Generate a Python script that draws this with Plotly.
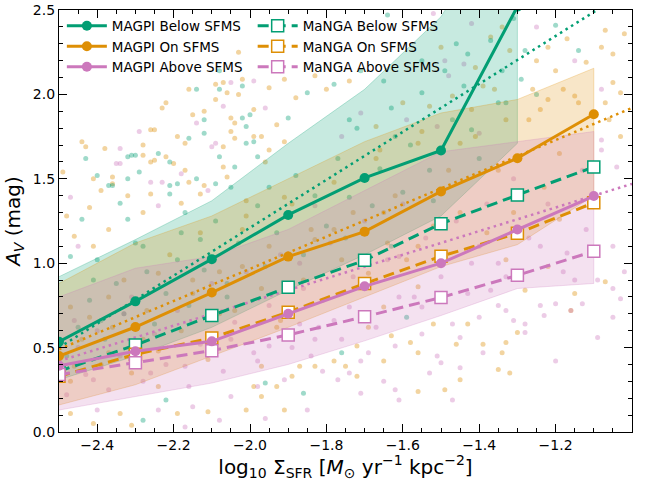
import plotly.graph_objects as go

# ---------------- data ----------------
xbins = [-2.5, -2.3, -2.1, -1.9, -1.7, -1.5, -1.3, -1.1]
xbins_below = [-2.5, -2.3, -2.1, -1.9, -1.7, -1.5, -1.3]

magpi_below = [0.535, 0.774, 1.024, 1.286, 1.505, 1.668, 2.52]
magpi_on = [0.45, 0.622, 0.826, 1.039, 1.187, 1.425, 1.622, 1.882]
magpi_above = [0.393, 0.478, 0.537, 0.701, 0.863, 1.0, 1.2, 1.398]

manga_below = [0.36, 0.515, 0.69, 0.857, 1.017, 1.234, 1.404, 1.57]
manga_on = [0.33, 0.46, 0.557, 0.71, 0.879, 1.041, 1.177, 1.358]
manga_above = [0.34, 0.41, 0.482, 0.575, 0.683, 0.797, 0.928, 1.071]

band_below_lo = [0.31, 0.45, 0.62, 0.84, 1.05, 1.28, 1.71]
band_below_hi = [0.92, 1.14, 1.37, 1.71, 2.03, 2.46, 3.2]
band_on_lo = [0.16, 0.28, 0.45, 0.62, 0.80, 0.98, 1.11, 1.40]
band_on_hi = [0.88, 1.12, 1.28, 1.50, 1.72, 1.89, 1.97, 2.155]
band_above_lo = [0.13, 0.21, 0.29, 0.40, 0.54, 0.69, 0.85, 0.88]
band_above_hi = [0.80, 0.97, 1.04, 1.20, 1.43, 1.66, 1.72, 1.78]

fit_x = [-2.5, -1.0]
fit_below = [0.50, 2.63]
fit_on = [0.49, 1.92]
fit_above = [0.42, 1.47]

# individual spaxels
pts_below_x = [-2.08, -2.14, -2.02, -2.08, -2.12, -2.02, -2.00, -2.16, -2.12, -2.01, -2.43, -2.32, -2.31,
               -2.30, -2.24, -2.21, -2.08, -2.01, -2.40, -2.37, -2.32, -2.29, -2.14, -2.21, -2.19, -2.09,
               -2.04, -1.64, -1.92, -1.85, -1.78, -1.71, -1.90, -1.99, -1.98, -1.65, -1.55, -1.74, -1.62,
               -1.49, -1.20, -1.28, -1.29, -1.25, -1.14, -1.43, -1.34, -1.35, -1.42, -1.46, -1.76, -1.86,
               -1.96, -1.59, -1.95, -1.74, -1.52, -1.63, -2.36, -2.34, -2.44, -2.47, -2.32, -2.21, -2.17,
               -2.05, -2.28, -2.22, -2.41, -2.19, -2.06, -2.13, -2.28, -2.39]
pts_below_y = [2.14, 2.03, 2.05, 2.03, 1.85, 1.86, 1.88, 1.74, 1.77, 1.81, 1.62, 1.63, 1.64,
               1.64, 1.65, 1.60, 1.63, 1.71, 1.52, 1.46, 1.50, 1.54, 1.50, 1.46, 1.47, 1.47,
               1.57, 2.47, 2.14, 2.01, 2.06, 2.14, 1.86, 1.72, 1.63, 2.08, 2.01, 1.85, 1.75,
               2.14, 2.41, 2.26, 2.09, 2.00, 2.26, 2.24, 2.14, 1.95, 1.79, 2.30, 0.47, 0.23,
               0.29, 0.68, 1.45, 1.39, 1.37, 1.10, 1.46, 1.355, 1.26, 1.04, 1.26, 1.41, 1.30,
               1.45, 0.07, 0.19, 0.90, 1.02, 0.80, 1.14, 1.10, 0.66]
pts_below_x2 = [-2.45, -2.42, -2.38, -2.35, -2.33, -2.27, -2.25, -2.22, -2.18, -2.16, -2.12, -2.09, -2.06,
                -2.03, -1.98, -1.96, -1.93, -1.88, -1.86, -1.83, -1.80, -1.77, -1.75, -1.72, -1.68, -1.66,
                -1.63, -1.60, -1.58, -1.55, -1.53, -1.47, -1.44, -1.40, -1.37, -1.33, -1.31, -2.48, -2.40,
                -2.30]
pts_below_y2 = [0.62, 0.78, 0.55, 0.88, 0.70, 0.95, 0.64, 0.82, 1.18, 0.75, 0.96, 1.25, 0.88,
                1.12, 1.34, 0.98, 1.18, 1.52, 1.05, 1.40, 1.22, 1.62, 1.15, 1.80, 1.34, 1.56,
                1.92, 1.42, 1.70, 2.20, 1.55, 1.85, 2.05, 1.62, 2.32, 1.95, 2.45, 0.45, 1.02,
                1.12]

pts_on_x = [-2.03, -2.07, -2.09, -2.16, -2.02, -2.06, -2.03, -2.09, -2.23, -2.22, -2.12, -2.15, -2.05,
            -2.04, -2.25, -2.26, -2.19, -2.05, -1.99, -2.44, -2.43, -2.38, -2.28, -2.28, -2.22, -2.20,
            -2.17, -2.07, -2.04, -2.49, -2.41, -2.36, -2.36, -2.26, -2.25, -2.17, -2.16, -2.12, -2.06,
            -2.07, -1.95, -1.91, -1.88, -1.80, -1.74, -1.83, -1.99, -1.93, -1.97, -1.95, -1.91, -1.96,
            -1.67, -1.60, -1.53, -1.66, -1.56, -1.50, -1.02, -1.07, -1.17, -1.22, -1.08, -1.05, -1.12,
            -1.25, -1.20, -1.26, -1.18, -1.15, -1.05, -1.03, -1.07, -1.22, -1.06, -1.03, -1.24, -1.37,
            -1.39, -1.42, -1.47, -1.33, -1.45, -1.36, -1.41, -1.32, -1.34, -1.15, -1.30, -1.43, -1.46,
            -1.39, -1.34, -1.33, -1.35, -1.32, -1.45, -1.07, -1.22, -1.28, -1.19, -1.33, -1.52, -1.58,
            -1.56, -1.65, -1.72, -1.75, -1.78, -1.83, -1.87, -1.89, -1.93, -1.97, -1.91, -1.72, -1.56,
            -1.49, -1.63, -1.65, -1.56, -1.93, -1.69, -1.97, -1.91, -1.78, -1.65, -1.56, -1.69, -1.83,
            -2.39, -2.42, -2.48, -2.46, -2.41, -2.37, -2.28, -2.26, -2.32, -2.18, -2.13, -2.01, -2.47,
            -2.34, -2.19, -2.11, -2.01, -2.31, -2.41, -1.99, -2.37, -2.24, -2.15, -2.28, -2.11, -2.02,
            -2.24, -2.02, -2.37, -2.08, -2.46, -2.47, -1.16]
pts_on_y = [2.25, 2.07, 2.06, 2.03, 2.09, 2.01, 2.00, 1.97, 1.92, 1.95, 1.90, 1.88, 1.86,
            1.83, 1.79, 1.79, 1.75, 1.78, 1.75, 1.72, 1.69, 1.68, 1.70, 1.64, 1.63, 1.59,
            1.71, 1.69, 1.74, 1.54, 1.50, 1.51, 1.47, 1.60, 1.61, 1.55, 1.48, 1.46, 1.51,
            1.57, 2.04, 2.09, 1.98, 2.03, 2.08, 2.11, 1.91, 1.82, 1.75, 1.67, 1.72, 1.60,
            1.81, 1.95, 1.93, 1.67, 1.71, 2.28, 2.36, 2.38, 2.33, 2.28, 2.28, 2.24, 2.19,
            2.20, 2.14, 2.03, 2.03, 1.99, 2.07, 2.01, 1.95, 1.97, 1.85, 1.75, 1.91, 2.34,
            2.05, 1.91, 1.99, 1.85, 1.71, 2.03, 2.16, 2.26, 2.40, 0.82, 0.59, 0.64, 0.52,
            0.52, 0.47, 0.53, 0.37, 0.35, 0.31, 0.89, 0.98, 0.84, 1.26, 1.02, 0.64, 0.53,
            0.47, 0.42, 0.51, 0.39, 0.42, 0.39, 0.39, 0.33, 0.27, 0.21, 0.13, 0.33, 0.24,
            0.25, 0.57, 0.74, 0.86, 0.62, 0.62, 0.39, 1.39, 1.20, 1.30, 1.10, 0.94, 1.14,
            1.43, 1.33, 1.28, 1.16, 1.10, 1.20, 1.30, 1.41, 1.40, 1.355, 1.41, 1.37, 0.11,
            0.11, 0.11, 0.12, 0.13, 0.04, 0.05, 0.27, 0.80, 0.94, 0.90, 0.55, 0.43, 0.98,
            0.27, 1.20, 0.47, 0.70, 0.39, 0.74, 0.72]
pts_on_x2 = [-2.47, -2.44, -2.42, -2.39, -2.36, -2.33, -2.31, -2.27, -2.24, -2.21, -2.18, -2.15, -2.13,
             -2.10, -2.08, -2.04, -2.01, -1.97, -1.95, -1.92, -1.89, -1.86, -1.84, -1.81, -1.78, -1.76,
             -1.73, -1.70, -1.67, -1.64, -1.62, -1.59, -1.55, -1.52, -1.48, -1.45, -1.41, -1.38, -1.35,
             -1.31, -1.27, -1.23, -1.19, -1.14, -1.11]
pts_on_y2 = [0.30, 0.55, 0.68, 0.40, 0.62, 0.90, 0.35, 0.72, 0.48, 1.05, 0.60, 0.82, 1.18,
             0.52, 0.95, 0.72, 1.28, 0.85, 1.10, 0.66, 1.35, 0.90, 1.20, 0.78, 1.48, 1.02,
             1.30, 0.88, 1.62, 1.12, 1.40, 1.02, 1.78, 1.22, 1.55, 1.30, 1.75, 1.18, 1.55,
             1.30, 1.85, 1.45, 1.65, 1.95, 1.55]

pts_above_x = [-2.05, -2.07, -2.14, -2.29, -2.34, -2.35, -2.34, -2.09, -2.10, -2.26, -2.23, -2.18,
               -1.52, -1.99, -1.96, -1.71, -1.59, -1.76, -1.51, -1.42, -1.25, -1.15, -1.08, -1.08,
               -1.04, -1.08, -1.44, -1.48, -1.40, -1.49, -1.05, -1.05, -1.03, -1.13, -1.20, -1.24,
               -1.35, -1.33, -1.31, -1.28, -1.28, -1.40, -1.47, -1.45, -1.39, -1.23, -1.16, -1.20,
               -1.45, -1.47, -1.05, -1.09, -1.42, -1.33, -1.17, -1.37, -1.15, -1.24, -1.40, -1.55,
               -1.51, -1.62, -1.69, -1.71, -1.74, -1.81, -1.84, -1.91, -1.98, -1.96, -1.85, -1.77,
               -1.65, -1.61, -1.53, -1.50, -1.62, -1.71, -1.78, -1.74, -1.61, -1.83, -1.87, -1.55,
               -1.95, -1.83, -1.61, -1.87, -2.47, -2.45, -2.24, -2.11, -2.40, -2.24, -2.15, -2.05,
               -2.08, -2.17, -2.46, -2.33, -2.17, -2.41, -2.05, -1.99, -2.26, -1.02, -1.09]
pts_above_y = [2.07, 1.93, 1.83, 1.78, 1.68, 1.59, 1.59, 1.71, 1.69, 1.48, 1.48, 1.53,
               2.48, 2.08, 1.92, 1.89, 1.85, 1.75, 1.81, 2.42, 2.40, 2.20, 2.03, 1.73,
               1.57, 1.67, 2.18, 2.11, 1.77, 2.20, 1.10, 0.85, 0.79, 0.76, 0.76, 0.75,
               0.75, 0.72, 0.66, 0.64, 0.59, 0.68, 0.64, 0.56, 0.47, 0.69, 0.72, 0.42,
               0.38, 0.19, 0.68, 0.90, 1.00, 0.92, 1.06, 0.84, 0.90, 1.10, 1.10, 0.58,
               0.45, 0.51, 0.47, 0.42, 0.35, 0.36, 0.45, 0.31, 0.27, 0.08, 0.13, 0.31,
               0.30, 0.19, 0.35, 0.41, 0.25, 0.23, 0.66, 0.74, 0.80, 0.55, 0.64, 0.74,
               0.51, 1.34, 1.04, 1.00, 1.39, 1.10, 1.34, 1.43, 0.13, 0.13, 0.15, 0.21,
               0.07, 0.03, 0.66, 0.70, 0.39, 0.31, 0.55, 0.47, 0.35, 0.95, 0.56]
pts_above_x2 = [-2.48, -2.45, -2.43, -2.40, -2.37, -2.34, -2.31, -2.28, -2.25, -2.22, -2.19, -2.16, -2.13,
                -2.10, -2.07, -2.04, -2.01, -1.98, -1.95, -1.92, -1.89, -1.86, -1.82, -1.79, -1.76, -1.73,
                -1.70, -1.67, -1.64, -1.60, -1.57, -1.54, -1.50, -1.46, -1.43, -1.38, -1.35, -1.31, -1.27,
                -1.22, -1.18, -1.13, -1.12]
pts_above_y2 = [0.22, 0.50, 0.34, 0.60, 0.25, 0.45, 0.80, 0.30, 0.58, 0.40, 0.72, 0.27, 0.52,
                0.88, 0.36, 0.65, 0.95, 0.42, 0.75, 1.05, 0.50, 0.85, 0.62, 1.12, 0.55, 0.92,
                1.25, 0.62, 1.02, 1.35, 0.80, 1.15, 0.92, 1.25, 0.82, 1.35, 1.00, 1.50, 1.15,
                1.35, 0.95, 1.55, 1.20]

names_magpi = ["MAGPI Below SFMS", "MAGPI On SFMS", "MAGPI Above SFMS"]
names_manga = ["MaNGA Below SFMS", "MaNGA On SFMS", "MaNGA Above SFMS"]

# ---------------- style ----------------
GREEN = "#029e73"
ORANGE = "#de8f05"
PINK = "#cc78bc"


def rgba(hexc, a):
    h = hexc.lstrip("#")
    r, g, b = int(h[0:2], 16), int(h[2:4], 16), int(h[4:6], 16)
    return f"rgba({r},{g},{b},{a})"


FONT = "DejaVu Sans"
fig = go.Figure()

# scatter clouds
for xs, ys, col in [(pts_on_x + pts_on_x2, pts_on_y + pts_on_y2, ORANGE),
                    (pts_below_x + pts_below_x2, pts_below_y + pts_below_y2, GREEN),
                    (pts_above_x + pts_above_x2, pts_above_y + pts_above_y2, PINK)]:
    fig.add_trace(go.Scatter(x=xs, y=ys, mode="markers",
                             marker=dict(size=5, color=rgba(col, 0.38), line=dict(width=0)),
                             showlegend=False, hoverinfo="skip"))

# shaded bands
for xs, lo, hi, col in [(xbins_below, band_below_lo, band_below_hi, GREEN),
                        (xbins, band_on_lo, band_on_hi, ORANGE),
                        (xbins, band_above_lo, band_above_hi, PINK)]:
    fig.add_trace(go.Scatter(x=list(xs) + list(xs)[::-1], y=list(hi) + list(lo)[::-1],
                             fill="toself", fillcolor=rgba(col, 0.22),
                             line=dict(color=rgba(col, 0.25), width=1),
                             mode="lines", showlegend=False, hoverinfo="skip"))

# fit lines (dotted)
for fy, col in [(fit_below, GREEN), (fit_on, ORANGE), (fit_above, PINK)]:
    fig.add_trace(go.Scatter(x=fit_x, y=fy, mode="lines",
                             line=dict(color=col, width=2.5, dash="2.5px,4px"),
                             showlegend=False, hoverinfo="skip"))

# MaNGA dashed lines with open squares
for ys, col, nm in [(manga_below, GREEN, names_manga[0]), (manga_on, ORANGE, names_manga[1]),
                    (manga_above, PINK, names_manga[2])]:
    fig.add_trace(go.Scatter(x=xbins, y=ys, mode="lines+markers", name=nm, legend="legend2",
                             line=dict(color=col, width=3, dash="11px,6px"),
                             marker=dict(symbol="square", size=12, color="white",
                                         line=dict(color=col, width=1.5))))

# MAGPI solid lines with filled circles
for xs, ys, col, nm in [(xbins_below, magpi_below, GREEN, names_magpi[0]),
                        (xbins, magpi_on, ORANGE, names_magpi[1]),
                        (xbins, magpi_above, PINK, names_magpi[2])]:
    fig.add_trace(go.Scatter(x=xs, y=ys, mode="lines+markers", name=nm, legend="legend",
                             line=dict(color=col, width=3),
                             marker=dict(symbol="circle", size=10, color=col)))

axis_common = dict(showline=True, linecolor="black", linewidth=1.3, mirror="allticks",
                   ticks="inside", ticklen=8, tickwidth=1.3, tickcolor="black",
                   showgrid=False, zeroline=False, automargin=False,
                   tickfont=dict(family=FONT, size=14, color="black"))

fig.update_layout(
    width=648, height=481,
    margin=dict(l=59, r=16, t=10, b=49, autoexpand=False),
    paper_bgcolor="white", plot_bgcolor="white",
    font=dict(family=FONT, color="black"),
    xaxis=dict(range=[-2.5, -1.0], tick0=-2.4, dtick=0.2, tickformat=".1f",
               minor=dict(dtick=0.05, ticks="inside", ticklen=4, tickwidth=1, tickcolor="black"),
               title=dict(text="log<sub>10</sub> Σ<sub>SFR</sub> [<i>M</i><sub>⊙</sub> yr<sup>−1</sup> kpc<sup>−2</sup>]",
                          font=dict(family=FONT, size=20), standoff=8),
               **axis_common),
    yaxis=dict(range=[0, 2.5], tick0=0, dtick=0.5, tickformat=".1f",
               minor=dict(dtick=0.1, ticks="inside", ticklen=4, tickwidth=1, tickcolor="black"),
               title=dict(text="<i>A</i><sub><i>V</i></sub> (mag)",
                          font=dict(family=FONT, size=20), standoff=6),
               **axis_common),
    legend=dict(x=0.005, y=0.999, xanchor="left", yanchor="top", bgcolor="rgba(0,0,0,0)",
                font=dict(family=FONT, size=13.5), tracegroupgap=0, itemwidth=40),
    legend2=dict(x=0.338, y=0.999, xanchor="left", yanchor="top", bgcolor="rgba(0,0,0,0)",
                 font=dict(family=FONT, size=13.5), tracegroupgap=0, itemwidth=40),
)

fig.write_html("out.html")
